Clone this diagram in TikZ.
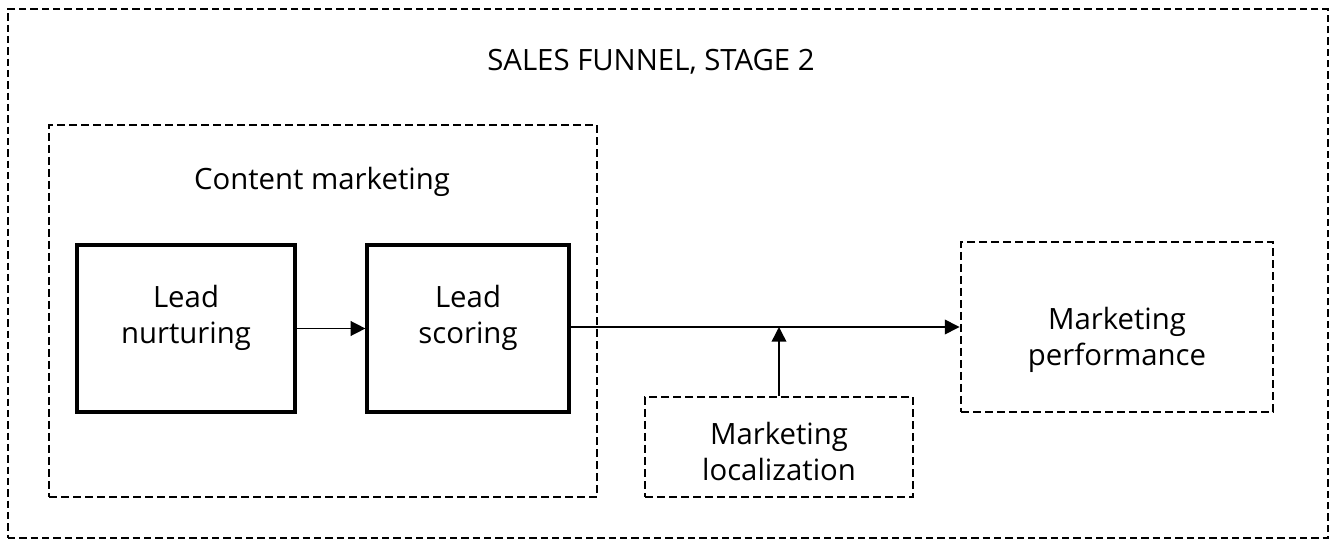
\documentclass[tikz,border=0pt]{standalone}
\usepackage{fontspec}
\setmainfont{Open Sans}
\usetikzlibrary{arrows.meta, positioning}

\begin{document}
\begin{tikzpicture}[
        x=0.75pt, y=-0.75pt,
        label/.style={font=\fontsize{22}{27}\selectfont, align=center},
        solidbox/.style={rectangle, draw, line width=2.4pt, label, inner sep=0pt},
        dashbox/.style={rectangle, draw, line width=2.2pt, dash pattern=on 6pt off 3pt, label, inner sep=0pt},
        framebox/.style={rectangle, draw, line width=1.5pt, dash pattern=on 5.5pt off 3pt, inner sep=0pt},
        arrow/.style={-{Triangle[length=11pt, width=11pt]}, line width=1.1pt}
    ]
    \useasboundingbox (0,0) rectangle (1335,541);

    % Outer frame and title
    \node[framebox, minimum width=1320*0.75pt, minimum height=529*0.75pt] (funnel) at (668,273.5) {};
    \node[label] (title) at (651,62) {SALES FUNNEL, STAGE 2};

    % Content marketing group
    \node[dashbox, minimum width=548*0.75pt, minimum height=372*0.75pt] (content) at (323,311) {};
    \node[label] (contenttitle) at (322,182) {Content marketing};

    % Inner steps
    \node[solidbox, minimum width=218*0.75pt, minimum height=167*0.75pt] (nurturing) at (186,328.5) {};
    \node[solidbox, minimum width=202*0.75pt, minimum height=167*0.75pt] (scoring) at (468,328.5) {};
    \node[label] (nurturingtext) at (186,318) {Lead\\nurturing};
    \node[label] (scoringtext) at (468,318) {Lead\\scoring};

    % Right side
    \node[dashbox, minimum width=312*0.75pt, minimum height=170*0.75pt] (performance) at (1117,327) {};
    \node[label] (performancetext) at (1117,340) {Marketing\\performance};
    \node[dashbox, minimum width=268*0.75pt, minimum height=100*0.75pt] (localization) at (779,447) {};
    \node[label] (localizationtext) at (779,451) {Marketing\\localization};

    % Arrows
    \draw[arrow] (nurturing.east) -- (scoring.west);
    \draw[arrow] (scoring.east |- performance.west) -- (performance.west);
    \draw[arrow] (localization.north) -- (localization.north |- performance.west);

\end{tikzpicture}
\end{document}
